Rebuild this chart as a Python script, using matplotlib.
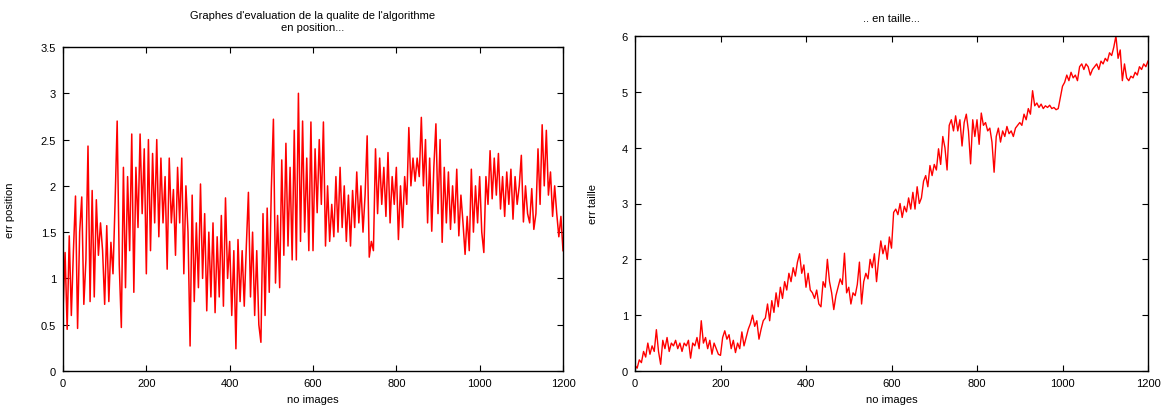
import numpy as np
import matplotlib
matplotlib.use("Agg")
import matplotlib.pyplot as plt

plt.rcParams['font.family'] = ['Liberation Sans', 'DejaVu Sans']

# ---- data (one value every 5 images) ----
images = list(range(0, 1201, 5))

err_position = [
    0.65, 1.28, 0.45, 1.46, 0.60, 1.30, 1.89, 0.46, 1.50, 1.88, 0.72, 1.20, 2.43, 0.75, 1.95, 0.80, 1.85, 1.25, 1.60, 1.30,
    0.72, 1.57, 0.75, 1.39, 1.05, 1.82, 2.70, 1.15, 0.47, 2.20, 0.90, 2.10, 1.30, 2.56, 0.85, 2.20, 1.55, 2.56, 1.70, 2.40,
    1.05, 2.50, 1.30, 2.35, 1.60, 2.50, 1.45, 2.30, 1.60, 2.10, 1.10, 2.30, 1.60, 1.96, 1.25, 2.20, 1.60, 2.30, 1.05, 2.00,
    1.50, 0.27, 1.90, 0.75, 1.60, 0.90, 2.02, 1.00, 1.70, 0.65, 1.50, 0.80, 1.60, 0.63, 1.45, 0.80, 1.68, 0.70, 1.87, 1.00,
    1.40, 0.60, 1.30, 0.24, 1.42, 0.75, 1.30, 0.70, 1.35, 1.93, 0.80, 1.50, 0.60, 1.30, 0.50, 0.31, 1.70, 0.60, 1.76, 0.85,
    1.97, 2.72, 0.95, 1.68, 0.90, 2.28, 1.25, 2.46, 1.35, 2.20, 1.20, 2.60, 1.20, 3.00, 1.40, 2.70, 1.50, 2.30, 1.30, 2.69,
    1.30, 2.40, 1.71, 2.50, 1.80, 2.69, 1.35, 2.00, 1.40, 1.80, 1.45, 2.10, 1.50, 2.20, 1.55, 2.00, 1.40, 1.90, 1.35, 1.95,
    1.55, 2.15, 1.60, 2.00, 1.50, 1.90, 2.54, 1.23, 1.40, 1.30, 2.40, 1.70, 2.30, 1.80, 2.20, 1.67, 2.36, 1.60, 2.10, 1.80,
    2.20, 1.42, 2.00, 1.55, 2.10, 1.80, 2.63, 2.00, 2.30, 2.05, 2.30, 2.10, 2.74, 2.00, 2.50, 1.60, 2.30, 1.51, 2.20, 2.67,
    1.70, 2.50, 1.39, 2.20, 1.60, 2.15, 1.53, 2.00, 1.60, 2.18, 1.46, 1.90, 1.60, 1.26, 1.67, 1.30, 2.18, 1.50, 2.00, 1.60,
    2.10, 1.50, 1.28, 2.10, 1.80, 2.38, 1.86, 2.30, 1.90, 2.35, 1.75, 2.10, 1.67, 2.15, 1.80, 2.18, 1.64, 2.10, 1.80, 2.00,
    2.33, 1.61, 2.00, 1.70, 1.60, 1.97, 1.53, 1.70, 2.40, 1.80, 2.66, 2.00, 2.60, 1.90, 2.15, 1.67, 2.00, 1.70, 1.45, 1.67,
    1.30,
]

err_taille = [
    0.10, 0.05, 0.20, 0.15, 0.35, 0.25, 0.50, 0.30, 0.45, 0.35, 0.74, 0.35, 0.12, 0.55, 0.40, 0.60, 0.35, 0.50, 0.45, 0.55,
    0.40, 0.50, 0.35, 0.50, 0.45, 0.55, 0.23, 0.50, 0.45, 0.60, 0.40, 0.90, 0.50, 0.60, 0.40, 0.55, 0.30, 0.50, 0.40, 0.30,
    0.28, 0.60, 0.72, 0.57, 0.65, 0.40, 0.55, 0.33, 0.50, 0.40, 0.70, 0.45, 0.60, 0.75, 0.85, 1.00, 0.80, 0.90, 0.57, 0.75,
    0.90, 0.95, 1.20, 0.90, 1.26, 1.05, 1.40, 1.15, 1.50, 1.30, 1.60, 1.45, 1.75, 1.60, 1.85, 1.70, 1.95, 2.10, 1.75, 1.90,
    1.50, 1.75, 1.45, 1.40, 1.30, 1.45, 1.20, 1.15, 1.60, 1.50, 2.00, 1.60, 1.40, 1.10, 1.35, 1.50, 1.65, 1.55, 2.11, 1.40,
    1.50, 1.20, 1.40, 1.35, 1.55, 1.95, 1.20, 1.60, 1.75, 1.65, 2.00, 1.85, 2.10, 1.60, 2.00, 2.33, 2.10, 2.25, 2.00, 2.40,
    2.20, 2.84, 2.90, 2.80, 3.00, 2.75, 2.95, 2.85, 3.10, 2.90, 3.20, 2.90, 3.30, 3.00, 3.10, 3.40, 3.50, 3.30, 3.68, 3.50,
    3.70, 3.60, 3.98, 3.70, 4.20, 4.00, 3.60, 4.40, 4.50, 4.30, 4.57, 4.30, 4.50, 4.03, 4.45, 4.60, 4.30, 3.71, 4.50, 4.20,
    4.50, 4.06, 4.62, 4.40, 4.45, 4.30, 4.35, 4.10, 3.56, 4.20, 4.35, 4.10, 4.30, 4.20, 4.38, 4.25, 4.30, 4.20, 4.35, 4.40,
    4.45, 4.40, 4.60, 4.50, 4.70, 4.60, 5.02, 4.75, 4.80, 4.72, 4.78, 4.70, 4.75, 4.72, 4.76, 4.70, 4.72, 4.68, 4.70, 4.90,
    5.10, 5.17, 5.30, 5.20, 5.35, 5.25, 5.30, 5.20, 5.45, 5.50, 5.40, 5.50, 5.45, 5.30, 5.40, 5.45, 5.50, 5.40, 5.55, 5.50,
    5.60, 5.55, 5.70, 5.65, 5.80, 6.00, 5.60, 5.75, 5.20, 5.50, 5.25, 5.20, 5.28, 5.25, 5.35, 5.30, 5.45, 5.40, 5.50, 5.45,
    5.55,
]

xticks = [0, 200, 400, 600, 800, 1000, 1200]
yticks_pos = [0, 0.5, 1, 1.5, 2, 2.5, 3, 3.5]
ytick_labels_pos = ["0", "0.5", "1", "1.5", "2", "2.5", "3", "3.5"]
yticks_taille = [0, 1, 2, 3, 4, 5, 6]

W, H = 1163, 406
fig = plt.figure(figsize=(W / 100, H / 100), dpi=100)

ax1 = fig.add_axes([63 / W, (H - 372) / H, 500 / W, 324 / H])
ax2 = fig.add_axes([635 / W, (H - 372) / H, 513 / W, 335 / H])

red = "#ff0000"
ax1.plot(images, err_position, color=red, lw=1.1)
ax2.plot(images, err_taille, color=red, lw=1.0)

def style(ax):
    ax.set_xlim(0, 1200)
    ax.set_xticks(xticks)
    ax.tick_params(direction="in", top=True, right=True, length=4, width=0.8,
                   labelsize=8, pad=5, colors="black")
    for s in ax.spines.values():
        s.set_linewidth(1.0)
        s.set_color("black")

style(ax1)
ax1.set_ylim(0, 3.5)
ax1.set_yticks(yticks_pos)
ax1.set_yticklabels(ytick_labels_pos)
ax1.set_title("Graphes d'evaluation de la qualite de l'algorithme\nen position...",
              fontsize=8, pad=12, linespacing=1.25)
ax1.set_xlabel("no images", fontsize=8)
ax1.set_ylabel("err position", fontsize=8)
ax1.xaxis.set_label_coords(0.5, -0.071)
ax1.yaxis.set_label_coords(-0.096, 0.5)

style(ax2)
ax2.set_ylim(0, 6)
ax2.set_yticks(yticks_taille)
ax2.set_title(".. en taille...", fontsize=8, pad=11)
ax2.set_xlabel("no images", fontsize=8)
ax2.set_ylabel("err taille", fontsize=8)
ax2.xaxis.set_label_coords(0.5, -0.069)
ax2.yaxis.set_label_coords(-0.072, 0.5)

fig.savefig("out.png", dpi=100, facecolor="white")
